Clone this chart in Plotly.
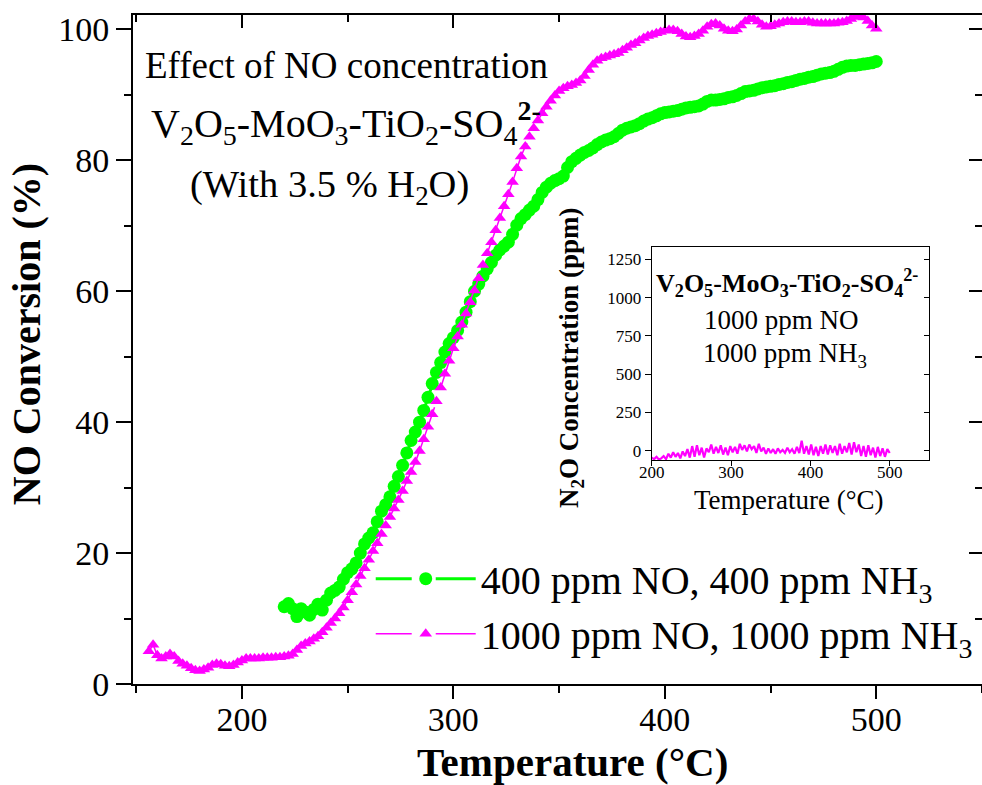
import plotly.graph_objects as go

# ---------------- data ----------------
temp_1000 = list(range(156, 501, 2))
conv_1000 = [
    5.0, 6.0, 4.4, 3.9, 4.2, 4.6, 4.2, 3.5, 3.1, 2.8,
    2.4, 2.1, 2.0, 2.2, 2.5, 2.9, 3.1, 3.0, 2.8, 2.7,
    2.9, 3.3, 3.6, 3.9, 3.9, 3.9, 3.9, 4.0, 4.0, 4.0,
    4.1, 4.1, 4.2, 4.3, 4.6, 5.2, 5.8, 6.2, 6.5, 6.9,
    7.3, 7.9, 8.6, 9.3, 10.0, 10.8, 11.7, 12.8, 14.0, 15.2,
    16.5, 17.7, 19.0, 20.3, 21.5, 22.9, 24.2, 25.5, 26.8, 28.1,
    29.5, 31.0, 32.4, 33.9, 35.6, 37.4, 39.3, 41.2, 43.2, 45.3,
    47.4, 49.4, 51.3, 53.1, 54.9, 56.6, 58.3, 60.1, 62.0, 64.0,
    65.8, 67.5, 69.3, 71.2, 73.0, 74.8, 76.7, 78.8, 80.6, 82.1,
    83.6, 84.9, 86.1, 87.2, 88.2, 89.1, 89.9, 90.6, 91.0, 91.3,
    91.5, 91.8, 92.2, 92.9, 93.8, 94.6, 95.2, 95.6, 95.8, 96.0,
    96.2, 96.4, 96.8, 97.2, 97.6, 97.9, 98.3, 98.7, 99.0, 99.2,
    99.4, 99.6, 99.8, 99.9, 99.9, 99.7, 99.3, 98.9, 98.8, 99.0,
    99.3, 99.8, 100.4, 100.8, 100.9, 100.6, 100.1, 99.8, 99.7, 100.0,
    100.6, 101.2, 101.6, 101.6, 101.2, 100.7, 100.4, 100.5, 100.7, 100.9,
    101.1, 101.2, 101.2, 101.1, 101.1, 101.2, 101.2, 101.0, 100.9, 100.9,
    100.9, 100.9, 100.9, 101.0, 101.1, 101.3, 101.6, 101.9, 102.0, 101.8,
    101.3, 100.6, 100.1,
]

temp_400 = list(range(220, 501, 2))
conv_400 = [
    11.8, 12.3, 11.5, 10.3, 11.5, 11.0, 10.5, 11.4, 12.2, 11.3,
    12.8, 13.9, 14.3, 14.8, 16.0, 17.0, 17.6, 18.5, 20.0, 21.4,
    22.3, 23.1, 24.8, 26.4, 27.4, 28.6, 30.2, 31.7, 33.4, 35.3,
    37.2, 38.5, 40.0, 41.8, 43.8, 45.9, 47.6, 49.1, 50.7, 52.0,
    52.9, 54.0, 55.3, 56.8, 58.4, 60.0, 61.1, 62.3, 63.4, 64.4,
    65.5, 66.3, 66.9, 67.5, 68.7, 70.1, 71.1, 71.7, 72.4, 73.0,
    74.0, 75.1, 75.9, 76.5, 76.9, 77.2, 77.6, 78.9, 79.8, 80.3,
    80.8, 81.2, 81.5, 81.9, 82.4, 82.8, 83.1, 83.3, 83.6, 84.1,
    84.6, 84.9, 85.1, 85.3, 85.6, 86.0, 86.3, 86.5, 86.8, 87.1,
    87.3, 87.4, 87.5, 87.6, 87.8, 88.0, 88.1, 88.2, 88.3, 88.6,
    89.0, 89.2, 89.2, 89.3, 89.4, 89.6, 89.7, 89.9, 90.2, 90.5,
    90.6, 90.7, 90.9, 91.1, 91.2, 91.3, 91.4, 91.6, 91.7, 91.9,
    92.0, 92.2, 92.4, 92.5, 92.7, 92.8, 93.0, 93.2, 93.3, 93.4,
    93.6, 93.9, 94.2, 94.4, 94.5, 94.5, 94.6, 94.7, 94.8, 94.9,
    95.1,
]

temp_n2o = list(range(200, 501, 3))
n2o_ppm = [
    -45, -55, -40, -58, -50, -35, -55, -20, -45, -10,
    -40, -15, -50, -5, -35, 10, -45, 30, -40, 35,
    -30, 20, -45, 15, -10, 40, -20, 25, -15, 35,
    -25, 20, -30, 30, -10, 25, -20, 45, 5, 35,
    -5, 40, 10, 30, -15, 45, -5, 20, -20, 15,
    -15, 10, -20, 15, -10, 5, -15, 20, -10, 10,
    -20, 25, -15, 65, -20, 30, -25, 40, -30, 25,
    -35, 30, -20, 40, -25, 35, -15, 30, -30, 45,
    -20, 30, -10, 50, -25, 55, -10, 40, -35, 30,
    -40, 35, -30, 20, -45, 25, -35, 15, -40, 10,
    -15,
]

series_names = ["400 ppm NO, 400 ppm NH<sub>3</sub>",
                "1000 ppm NO, 1000 ppm NH<sub>3</sub>"]
main_xticks = [200, 300, 400, 500]
main_yticks = [0, 20, 40, 60, 80, 100]
inset_xticks = [200, 300, 400, 500]
inset_yticks = [0, 250, 500, 750, 1000, 1250]

FONT = "Liberation Serif"
GREEN = "#00FF00"
MAGENTA = "#FF00FF"
BLACK = "#000000"
DASH = "36px,24px,80px,0px"

fig = go.Figure()
fig.add_trace(go.Scatter(
    x=temp_400, y=conv_400, mode="lines+markers", name=series_names[0],
    line=dict(color=GREEN, width=3, dash=DASH),
    marker=dict(symbol="circle", size=13, color=GREEN),
))
fig.add_trace(go.Scatter(
    x=temp_1000, y=conv_1000, mode="lines+markers", name=series_names[1],
    line=dict(color=MAGENTA, width=1.5, dash=DASH),
    marker=dict(symbol="triangle-up", size=11, color=MAGENTA),
))
fig.add_trace(go.Scatter(
    x=temp_n2o, y=n2o_ppm, xaxis="x2", yaxis="y2", mode="lines",
    line=dict(color=MAGENTA, width=2.2), showlegend=False,
))
# empty helper traces so that mirror axes are drawn
fig.add_trace(go.Scatter(x=[], y=[], xaxis="x3", yaxis="y3", showlegend=False))
fig.add_trace(go.Scatter(x=[], y=[], xaxis="x2", yaxis="y4", showlegend=False))

axis_common = dict(showgrid=False, zeroline=False, showline=True,
                   linecolor=BLACK, linewidth=2, tickcolor=BLACK,
                   tickwidth=2)

fig.update_layout(
    width=982, height=785,
    margin=dict(l=133, r=0, t=15, b=101),
    paper_bgcolor="white", plot_bgcolor="white",
    font=dict(family=FONT, color=BLACK),
    xaxis=dict(domain=[0, 1], range=[148.5, 550], tickvals=main_xticks,
               ticks="outside", ticklen=13, ticklabelstandoff=-9,
               tickfont=dict(size=34, family=FONT),
               minor=dict(dtick=50, tick0=0, ticks="outside", ticklen=7,
                          tickwidth=2, tickcolor=BLACK),
               anchor="y", **axis_common),
    yaxis=dict(domain=[0, 1], range=[0, 102.2], tickvals=main_yticks,
               ticks="outside", ticklen=15,
               tickfont=dict(size=34, family=FONT),
               minor=dict(dtick=10, tick0=0, ticks="outside", ticklen=7,
                          tickwidth=2, tickcolor=BLACK),
               anchor="x", **axis_common),
    xaxis3=dict(overlaying="x", side="top", anchor="y", range=[148.5, 550],
                tickvals=main_xticks, ticks="inside", ticklen=13,
                showticklabels=False,
                minor=dict(dtick=50, tick0=0, ticks="inside", ticklen=7,
                           tickwidth=2, tickcolor=BLACK),
                **axis_common),
    yaxis3=dict(overlaying="y", side="right", anchor="x", range=[0, 102.2],
                tickvals=main_yticks, ticks="inside", ticklen=13,
                showticklabels=False, showgrid=False, zeroline=False,
                showline=False, tickcolor=BLACK, tickwidth=2,
                minor=dict(dtick=10, tick0=0, ticks="inside", ticklen=7,
                           tickwidth=2, tickcolor=BLACK)),
    xaxis2=dict(domain=[0.611, 0.938], anchor="y2", range=[200, 550],
                tickvals=inset_xticks, ticks="outside", ticklen=5,
                ticklabelstandoff=-8,
                tickfont=dict(size=17, family=FONT), mirror=True,
                showgrid=False, zeroline=False, showline=True,
                linecolor=BLACK, linewidth=1.2, tickcolor=BLACK, tickwidth=1.2),
    yaxis2=dict(domain=[0.335, 0.653], anchor="x2", range=[-60, 1330],
                tickvals=inset_yticks, ticks="outside", ticklen=6,
                tickfont=dict(size=17, family=FONT), mirror=True,
                showgrid=False, zeroline=False, showline=True,
                linecolor=BLACK, linewidth=1.2, tickcolor=BLACK, tickwidth=1.2),
    yaxis4=dict(overlaying="y2", side="right", anchor="x2", range=[-60, 1330],
                tickvals=inset_yticks, ticks="inside", ticklen=5,
                showticklabels=False, showgrid=False, zeroline=False,
                showline=False, tickcolor=BLACK, tickwidth=1.2),
    legend=dict(x=0.28, y=0.206, xanchor="left", yanchor="top",
                bgcolor="rgba(0,0,0,0)", font=dict(size=40, family=FONT),
                itemwidth=100, tracegroupgap=0),
)

ann = [
    # main axis titles
    dict(text="<b>Temperature (°C)</b>", x=0.518, y=-0.117, font=dict(size=41)),
    dict(text="<b>NO Conversion (%)</b>", x=-0.126, y=0.523, textangle=-90,
         font=dict(size=40)),
    # main text
    dict(text="Effect of NO concentration", x=0.2509, y=0.924, font=dict(size=37)),
    dict(text="V<sub>2</sub>O<sub>5</sub>-MoO<sub>3</sub>-TiO<sub>2</sub>-SO<sub>4</sub><sup><b>2-</b></sup>",
         x=0.2509, y=0.838, font=dict(size=40)),
    dict(text="(With 3.5 % H<sub>2</sub>O)", x=0.232, y=0.743, font=dict(size=38.5)),
    # inset titles
    dict(text="Temperature (°C)", x=(789 - 133) / 849, y=(684 - 500) / 669,
         font=dict(size=27)),
    dict(text="<b>N<sub>2</sub>O Concentration (ppm)</b>", x=(571 - 133) / 849,
         y=(684 - 358) / 669, textangle=-90, font=dict(size=27)),
    # inset text
    dict(text="<b>V<sub>2</sub>O<sub>5</sub>-MoO<sub>3</sub>-TiO<sub>2</sub>-SO<sub>4</sub><sup>2-</sup></b>",
         x=(787 - 133) / 849, y=(684 - 283) / 669, font=dict(size=26)),
    dict(text="1000 ppm NO", x=(781 - 133) / 849, y=(684 - 320) / 669,
         font=dict(size=27)),
    dict(text="1000 ppm NH<sub>3</sub>", x=(785 - 133) / 849, y=(684 - 355) / 669,
         font=dict(size=27)),
]
for a in ann:
    a.update(xref="paper", yref="paper", showarrow=False,
             xanchor="center", yanchor="middle")
    a["font"].update(family=FONT, color=BLACK)
fig.update_layout(annotations=ann)

fig.write_html("out.html")
